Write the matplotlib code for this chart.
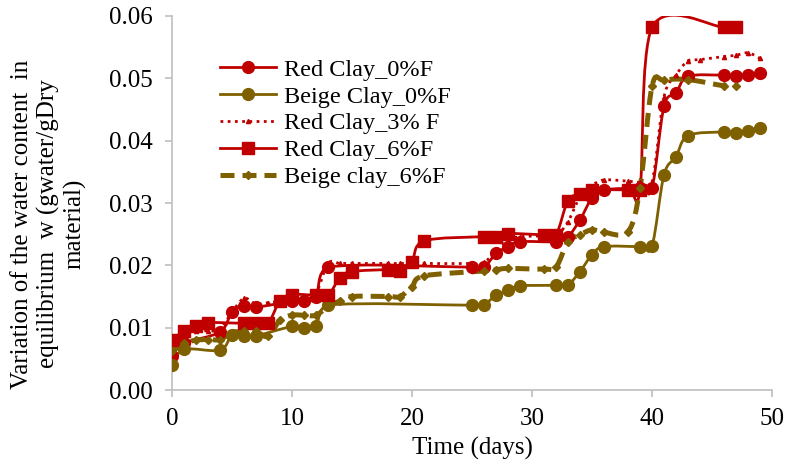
import numpy as np
import matplotlib
matplotlib.use("Agg")
import matplotlib.pyplot as plt
from matplotlib.path import Path
from matplotlib.patches import PathPatch
from matplotlib.lines import Line2D

plt.rcParams['font.family'] = ['Liberation Serif', 'DejaVu Serif']

# ---------------- data ----------------
red0_x = [0, 1, 4, 5, 6, 7, 10, 11, 12, 13, 25, 26, 27, 28, 29, 32, 33, 34, 35, 36,
          39, 40, 41, 42, 43, 46, 47, 48, 49]
red0_y = [0.0055, 0.0075, 0.0093, 0.0125, 0.0135, 0.0133, 0.0142, 0.0143, 0.0150, 0.0197,
          0.0197, 0.0197, 0.0219, 0.0230, 0.0238, 0.0238, 0.0246, 0.0273, 0.0308, 0.0321,
          0.0324, 0.0324, 0.0455, 0.0476, 0.0503, 0.0505, 0.0504, 0.0505, 0.0509]

beige0_x = red0_x
beige0_y = [0.0040, 0.0065, 0.0064, 0.0088, 0.0087, 0.0087, 0.0102, 0.0100, 0.0102, 0.0136,
            0.0136, 0.0137, 0.0152, 0.0160, 0.0167, 0.0168, 0.0169, 0.0190, 0.0217, 0.0230,
            0.0230, 0.0231, 0.0345, 0.0374, 0.0408, 0.0414, 0.0413, 0.0416, 0.0421]

red3_x = [0, 1, 2, 3, 4, 5, 6, 7, 8, 9, 10, 11, 12, 13, 14, 15, 18, 19, 20, 21, 25, 26,
          27, 28, 29, 31, 32, 33, 34, 35, 36, 38, 39, 40, 41, 42, 43, 44, 46, 47, 48, 49]
red3_y = [0.0060, 0.0090, 0.0095, 0.0095, 0.0097, 0.0125, 0.0147, 0.0138, 0.0140, 0.0142,
          0.0143, 0.0145, 0.0155, 0.0203, 0.0203, 0.0203, 0.0203, 0.0203, 0.0203, 0.0203,
          0.0203, 0.0205, 0.0222, 0.0240, 0.0246, 0.0247, 0.0247, 0.0270, 0.0310, 0.0328,
          0.0337, 0.0335, 0.0333, 0.0333, 0.0470, 0.0505, 0.0528, 0.0530, 0.0535, 0.0537,
          0.0541, 0.0532]

red6_x = [0, 1, 2, 3, 6, 7, 8, 9, 10, 12, 13, 14, 15, 18, 19, 20, 21, 26, 27, 28, 31, 32,
          33, 34, 35, 38, 39, 40, 46, 47]
red6_y = [0.0080, 0.0095, 0.0102, 0.0108, 0.0107, 0.0107, 0.0107, 0.0143, 0.0153, 0.0152,
          0.0152, 0.0180, 0.0190, 0.0193, 0.0191, 0.0206, 0.0239, 0.0246, 0.0246, 0.0251,
          0.0249, 0.0249, 0.0304, 0.0314, 0.0321, 0.0321, 0.0321, 0.0582, 0.0582, 0.0582]

beige6_x = [0, 1, 2, 3, 4, 5, 6, 7, 8, 9, 10, 11, 12, 13, 14, 15, 18, 19, 20, 21, 26, 27,
            28, 31, 32, 33, 34, 35, 36, 38, 39, 40, 41, 43, 46, 47]
beige6_y = [0.0062, 0.0075, 0.0080, 0.0081, 0.0081, 0.0092, 0.0094, 0.0094, 0.0086, 0.0112,
            0.0120, 0.0120, 0.0120, 0.0134, 0.0143, 0.0150, 0.0150, 0.0150, 0.0166, 0.0183,
            0.0191, 0.0193, 0.0195, 0.0194, 0.0197, 0.0238, 0.0249, 0.0257, 0.0253, 0.0254,
            0.0324, 0.0487, 0.0497, 0.0498, 0.0488, 0.0488]

labels = ["Red Clay_0%F", "Beige Clay_0%F", "Red Clay_3% F", "Red Clay_6%F", "Beige clay_6%F"]
x_ticks = [0, 10, 20, 30, 40, 50]
y_ticks = [0.00, 0.01, 0.02, 0.03, 0.04, 0.05, 0.06]

RED = "#C00000"
BROWN = "#7F6000"


def smooth_path(x, y):
    P = np.column_stack([x, y]).astype(float)
    n = len(P)
    verts = [P[0]]
    codes = [Path.MOVETO]
    for i in range(n - 1):
        p0 = P[i - 1] if i > 0 else P[i]
        p1 = P[i]
        p2 = P[i + 1]
        p3 = P[i + 2] if i + 2 < n else P[i + 1]
        c1 = p1 + (p2 - p0) / 6.0
        c2 = p2 - (p3 - p1) / 6.0
        c1[0] = min(max(c1[0], p1[0]), p2[0])
        c2[0] = min(max(c2[0], p1[0]), p2[0])
        verts += [c1, c2, p2]
        codes += [Path.CURVE4] * 3
    return Path(verts, codes)


fig = plt.figure(figsize=(7.88, 4.65), dpi=100)
ax = fig.add_axes([172 / 788, 1 - 390 / 465, 600 / 788, 374 / 465])

series = [
    (red0_x, red0_y, RED, '-', 2.0, 'o', 8.5, labels[0]),
    (beige0_x, beige0_y, BROWN, '-', 2.0, 'o', 8.5, labels[1]),
    (red3_x, red3_y, RED, (0, (1, 1.6)), 2.0, '^', 3.0, labels[2]),
    (red6_x, red6_y, RED, '-', 2.0, 's', 8.0, labels[3]),
    (beige6_x, beige6_y, BROWN, (0, (2.8, 1.6)), 3.6, 'D', 4.0, labels[4]),
]

handles = []
for x, y, c, ls, lw, mk, ms, lab in series:
    patch = PathPatch(smooth_path(x, y), facecolor='none', edgecolor=c, lw=lw,
                      linestyle=ls, capstyle='butt', zorder=2)
    ax.add_patch(patch)
    ax.plot(x, y, linestyle='none', marker=mk, markersize=ms, color=c,
            markeredgecolor=c, zorder=3)
    handles.append(Line2D([], [], color=c, lw=lw, linestyle=ls, marker=mk,
                          markersize=ms, markeredgecolor=c))

ax.set_xlim(0, 50)
ax.set_ylim(0, 0.06)
ax.set_xticks(x_ticks)
ax.set_yticks(y_ticks)
ax.set_yticklabels([f"{v:.2f}" for v in y_ticks])
for s in ['top', 'right']:
    ax.spines[s].set_visible(False)
for s in ['left', 'bottom']:
    ax.spines[s].set_color('#BFBFBF')
    ax.spines[s].set_linewidth(1.2)
ax.tick_params(axis='both', colors='#BFBFBF', labelcolor='black', labelsize=18,
               length=5, width=1.2, direction='out')
ax.tick_params(axis='y', pad=9)
ax.tick_params(axis='x', pad=8)

ax.set_xlabel("Time (days)", fontsize=18, labelpad=5)
ax.set_ylabel("Variation of the water content  in\nequilibrium  w (gwater/gDry\nmaterial)",
              fontsize=18, linespacing=1.2, va='center', ha='center')
ax.yaxis.set_label_coords(-0.205, 0.444)

leg = ax.legend(handles, labels, loc='upper left', bbox_to_anchor=(0.08, 0.886),
                frameon=False, fontsize=17.5, handlelength=2.3, handletextpad=0.35,
                labelspacing=0.2, borderpad=0, borderaxespad=0)

fig.savefig("out.png", dpi=100)
